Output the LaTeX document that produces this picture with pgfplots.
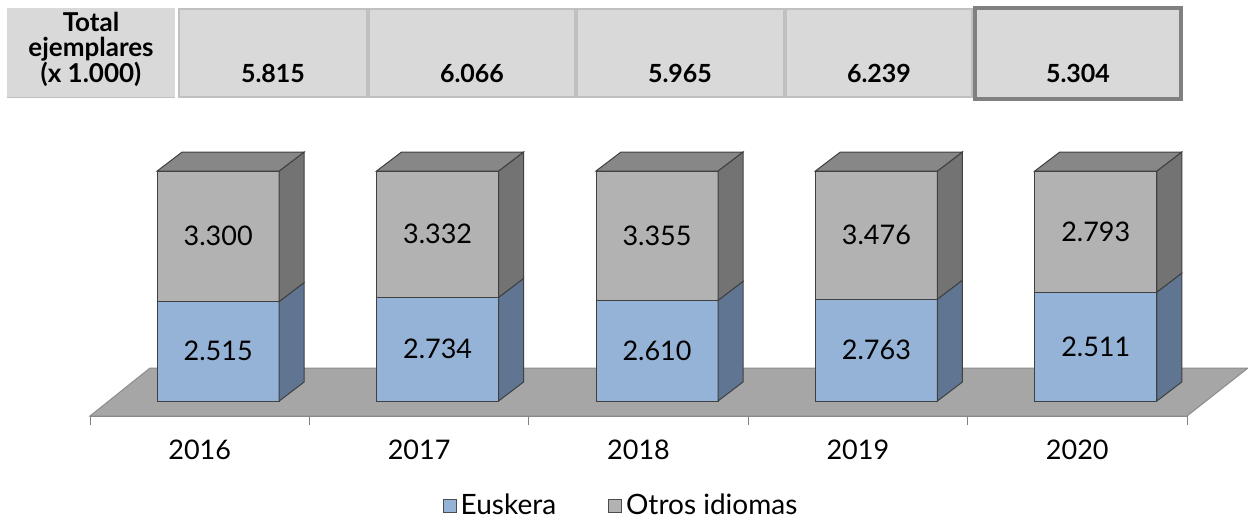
\documentclass[border=0pt]{standalone}
\usepackage{fontspec}
\setmainfont{Lato}
\usepackage{pgfplots}
\pgfplotsset{compat=1.18}
\usepackage{pgfplotstable}

\definecolor{eusF}{HTML}{95B3D7}
\definecolor{eusS}{HTML}{5F7591}
\definecolor{othF}{HTML}{B2B2B2}
\definecolor{othS}{HTML}{737373}
\definecolor{othT}{HTML}{878787}
\definecolor{floorc}{HTML}{A6A6A6}
\definecolor{floorb}{HTML}{8C8C8C}
\definecolor{cellc}{HTML}{D9D9D9}
\definecolor{cellb}{HTML}{C0C0C0}
\definecolor{edgec}{HTML}{404040}

% thousands of copies
\pgfplotstableread{
i eus otros
0 2515 3300
1 2734 3332
2 2610 3355
3 2763 3476
4 2511 2793
}\datatable

\newcommand\yu{1.15}% pt per percentage point
% side face of a segment (height \h in percent)
\pgfdeclareplotmark{sideface}{%
  \pgfmathsetmacro\hh{\h*\yu}%
  \pgfpathmoveto{\pgfpoint{39.75pt}{0pt}}%
  \pgfpathlineto{\pgfpoint{52.25pt}{9.5pt}}%
  \pgfpathlineto{\pgfpoint{52.25pt}{9.5pt+\hh pt}}%
  \pgfpathlineto{\pgfpoint{39.75pt}{\hh pt}}%
  \pgfpathclose
  \pgfusepathqfillstroke}
% top face of a bar
\pgfdeclareplotmark{topface}{%
  \pgfpathmoveto{\pgfpoint{-21.25pt}{0pt}}%
  \pgfpathlineto{\pgfpoint{39.75pt}{0pt}}%
  \pgfpathlineto{\pgfpoint{52.25pt}{9.5pt}}%
  \pgfpathlineto{\pgfpoint{-8.75pt}{9.5pt}}%
  \pgfpathclose
  \pgfusepathqfillstroke}

\begin{document}
\begin{tikzpicture}
\useasboundingbox (0,0) rectangle (624pt,-262pt);

% header table (pixel grid: 1px = 0.5pt)
\begin{scope}[x=0.5pt,y=-0.5pt]
  \fill[cellc] (7,8) rectangle (175,98);
  \draw[cellb, line width=0.5pt] (7,98) -- (175,98);
  \foreach \a/\b in {178/368,368/576,576/785,785/973}{
    \draw[fill=cellc, draw=cellb, line width=1pt] (\a+1,9) rectangle (\b-1,97);
  }
  \draw[fill=cellc, draw=gray, line width=2pt] (975,8) rectangle (1181,99);
  \node[font=\bfseries\fontsize{13}{12.75}\selectfont, align=center] at (91,49) {Total\\ejemplares\\(x 1.000)};
  \foreach \x/\t in {273/5.815,472/6.066,680/5.965,879/6.239,1078/5.304}{
    \node[font=\bfseries\fontsize{12.5}{14}\selectfont] at (\x,73) {\t};
  }
\end{scope}

\begin{axis}[
  at={(45pt,-208pt)}, anchor=south west,
  x=109.7pt, y=1.15pt,
  xmin=-0.5, xmax=4.5, ymin=-6.52, ymax=110,
  clip=false,
  axis x line*=bottom, axis y line=none,
  x axis line style={draw=gray, line width=0.5pt, -},
  xtick={-0.5,0.5,...,4.5},
  x tick label as interval,
  xticklabels={2016,2017,2018,2019,2020},
  tick align=outside, major tick length=4.5pt,
  xtick style={draw=gray, line width=0.5pt},
  xticklabel style={font=\fontsize{13.5}{15}\selectfont, yshift=-4pt},
  /pgf/number format/.cd, fixed, precision=0, 1000 sep={.}, assume math mode=true,
  /pgfplots/.cd,
  legend image code/.code={\draw[#1, line width=0.5pt] (0pt,-3.25pt) rectangle (6.5pt,3.25pt);},
  legend style={at={(0.485,-0.336)}, anchor=center, draw=none, fill=none,
    legend columns=2, font=\fontsize{14}{16}\selectfont,
    /tikz/every even column/.append style={column sep=24pt}},
]
% floor
\addplot[fill=floorc, draw=floorb, line width=0.5pt, forget plot]
  coordinates {(-0.5,-6.52) (4.5,-6.52) (4.778,14.35) (-0.2265,14.35)} -- cycle;

% front faces (100% stacked)
\addplot[ybar, bar width=61pt, bar shift=9.25pt, fill=othF, draw=edgec, line width=0.5pt, forget plot]
  table[x=i, y expr=100] {\datatable};
\addplot[ybar, bar width=61pt, bar shift=9.25pt, fill=eusF, draw=edgec, line width=0.5pt, forget plot]
  table[x=i, y expr=100*\thisrow{eus}/(\thisrow{eus}+\thisrow{otros})] {\datatable};

% side faces
\addplot[scatter, only marks, mark=sideface, forget plot,
  scatter/use mapped color={draw=edgec, fill=eusS}, line width=0.5pt,
  visualization depends on={100*\thisrow{eus}/(\thisrow{eus}+\thisrow{otros})\as\h}]
  table[x=i, y expr=0] {\datatable};
\addplot[scatter, only marks, mark=sideface, forget plot,
  scatter/use mapped color={draw=edgec, fill=othS}, line width=0.5pt,
  visualization depends on={100*\thisrow{otros}/(\thisrow{eus}+\thisrow{otros})\as\h}]
  table[x=i, y expr=100*\thisrow{eus}/(\thisrow{eus}+\thisrow{otros})] {\datatable};
% top faces
\addplot[scatter, only marks, mark=topface, forget plot,
  scatter/use mapped color={draw=edgec, fill=othT}, line width=0.5pt]
  table[x=i, y expr=100] {\datatable};

% value labels
\addplot[draw=none, mark=none, forget plot, point meta=explicit,
  nodes near coords, nodes near coords style={anchor=center, xshift=9.25pt, text=black, font=\fontsize{13.5}{15}\selectfont}]
  table[x=i, y expr=50*\thisrow{eus}/(\thisrow{eus}+\thisrow{otros}), meta=eus] {\datatable};
\addplot[draw=none, mark=none, forget plot, point meta=explicit,
  nodes near coords, nodes near coords style={anchor=center, xshift=9.25pt, text=black, font=\fontsize{13.5}{15}\selectfont}]
  table[x=i, y expr=50+50*\thisrow{eus}/(\thisrow{eus}+\thisrow{otros}), meta=otros] {\datatable};

\addlegendimage{fill=eusF, draw=gray!60!black}
\addlegendentry{Euskera}
\addlegendimage{fill=othF, draw=gray!60!black}
\addlegendentry{Otros idiomas}
\end{axis}
\end{tikzpicture}
\end{document}
